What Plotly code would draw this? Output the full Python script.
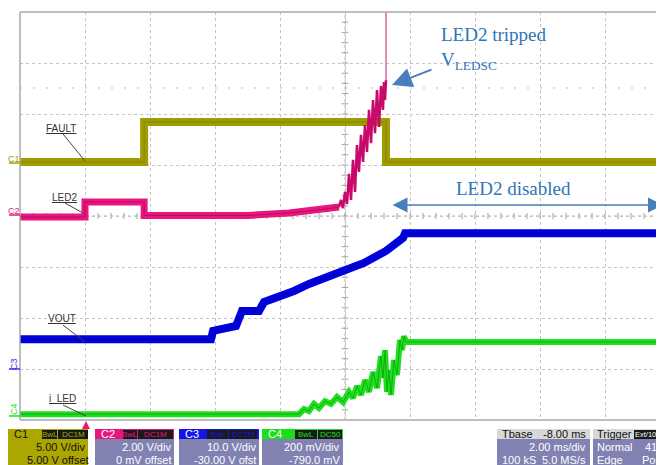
import plotly.graph_objects as go

# ---------------- data (time in ms, trigger at 0; 2 ms/div) ----------------
fault_t = [-2.0, 1.82, 1.82, 9.26, 9.26, 18.0]
fault_v = [0.29, 0.29, 4.22, 4.22, 0.29, 0.29]

led2_t = [-2.0, 0.0, 0.0, 1.82, 1.82, 5.0, 6.28, 7.2, 7.815]
led2_v = [-0.04, -0.04, 0.55, 0.55, 0.02, 0.02, 0.12, 0.24, 0.35]

led2_ramp_t = [7.815, 7.877, 7.938, 8.0, 8.062, 8.123, 8.185, 8.246, 8.308, 8.369,
               8.431, 8.492, 8.554, 8.615, 8.677, 8.738, 8.8, 8.862, 8.923, 8.985,
               9.046, 9.108, 9.169, 9.2, 9.231, 9.262]
led2_ramp_v = [0.35, 0.63, 0.31, 0.94, 0.47, 1.65, 0.63, 2.20, 0.94, 2.78,
               1.73, 3.18, 2.12, 3.57, 2.51, 4.16, 2.86, 4.55, 3.25, 4.94,
               3.49, 5.10, 4.16, 5.25, 4.55, 5.33]
led2_spike_t = [9.262, 9.262]
led2_spike_v = [5.33, 12.0]

vout_t = [-2.0, 3.877, 3.94, 4.646, 4.83, 5.354, 5.508, 5.908, 6.277, 6.431,
          6.892, 7.354, 7.908, 8.585, 9.262, 9.785, 9.846, 18.0]
vout_v = [5.85, 5.85, 7.46, 8.44, 11.38, 11.38, 13.14, 13.93, 14.91, 15.3,
          16.67, 17.85, 19.02, 20.79, 23.14, 25.69, 26.6, 26.6]

iled_t = [-2.0, 6.585, 6.738, 6.892, 7.046, 7.2, 7.385, 7.569, 7.754, 7.938,
          8.123, 8.246, 8.369, 8.492, 8.615, 8.738, 8.862, 8.985, 9.108, 9.169,
          9.231, 9.292, 9.354, 9.415, 9.508, 9.6, 9.692, 9.754, 9.815, 9.877, 18.0]
iled_v = [0.013, 0.013, 0.033, 0.025, 0.053, 0.037, 0.064, 0.053, 0.080, 0.060,
          0.100, 0.076, 0.123, 0.088, 0.147, 0.100, 0.178, 0.115, 0.241, 0.155,
          0.264, 0.100, 0.186, 0.088, 0.225, 0.166, 0.304, 0.264, 0.319, 0.296, 0.296]

# channel scale settings (V/div, offset V)
ch_names = ["C1", "C2", "C3", "C4"]
ch_vdiv = [5.0, 2.0, 10.0, 0.2]
ch_offset = [5.0, 0.0, -30.0, -0.79]
trace_labels = ["FAULT", "LED2", "VOUT", "i_LED"]

# timebase
ms_per_div = 2.0
t_left = -2.0

# ---------------- geometry ----------------
# the page body has an 8px margin; compensate so the plot lands where the reference has it
BODY = 8
W, H = 664, 465
ML, MT = 20, 12           # plot-area corner in page pixels
PW = W - ML               # 644
PH = 408
MB = H - MT - PH
DIVW = 65.0
t_right = t_left + PW / DIVW * ms_per_div


def xp(px):
    return (px - ML) / PW


def yp(py):
    return (MT + PH - py) / PH


OLIVE = "#a09d00"
PINK = "#e8177f"
BLUE = "#0000e0"
GREEN = "#1fe01f"
ANN = "#2e75b6"
LAV = "#8282b2"

fig = go.Figure()

# traces
fig.add_trace(go.Scatter(x=fault_t, y=fault_v, yaxis="y2", mode="lines",
                         line=dict(color=OLIVE, width=8), hoverinfo="skip"))
fig.add_trace(go.Scatter(x=fault_t, y=fault_v, yaxis="y2", mode="lines",
                         line=dict(color="#858300", width=1), hoverinfo="skip"))
fig.add_trace(go.Scatter(x=led2_t, y=led2_v, yaxis="y3", mode="lines",
                         line=dict(color=PINK, width=7), hoverinfo="skip"))
fig.add_trace(go.Scatter(x=led2_t, y=led2_v, yaxis="y3", mode="lines",
                         line=dict(color="#c0065f", width=1), hoverinfo="skip"))
fig.add_trace(go.Scatter(x=led2_ramp_t, y=led2_ramp_v, yaxis="y3", mode="lines",
                         line=dict(color="#c8086a", width=2.5), hoverinfo="skip"))
fig.add_trace(go.Scatter(x=led2_spike_t, y=led2_spike_v, yaxis="y3", mode="lines",
                         line=dict(color="#d0448a", width=1.2), hoverinfo="skip"))
fig.add_trace(go.Scatter(x=vout_t, y=vout_v, yaxis="y4", mode="lines",
                         line=dict(color=BLUE, width=8), hoverinfo="skip"))
fig.add_trace(go.Scatter(x=vout_t, y=vout_v, yaxis="y4", mode="lines",
                         line=dict(color="#0000a8", width=1), hoverinfo="skip"))
fig.add_trace(go.Scatter(x=iled_t, y=iled_v, yaxis="y5", mode="lines",
                         line=dict(color=GREEN, width=6), hoverinfo="skip"))
fig.add_trace(go.Scatter(x=iled_t, y=iled_v, yaxis="y5", mode="lines",
                         line=dict(color="#12aa12", width=1), hoverinfo="skip"))

shapes = []
annots = []

# frame
frame_col = "#a8a8a8"
shapes.append(dict(type="line", xref="paper", yref="paper", x0=0, x1=1, y0=1, y1=1,
                   line=dict(color=frame_col, width=1.5)))
shapes.append(dict(type="line", xref="paper", yref="paper", x0=0, x1=1, y0=0, y1=0,
                   line=dict(color=frame_col, width=1.5)))
shapes.append(dict(type="line", xref="paper", yref="paper", x0=0, x1=0, y0=0, y1=1,
                   line=dict(color=frame_col, width=1.5)))

# centre cross with minor ticks
t_center = t_left + 5 * ms_per_div
shapes.append(dict(type="line", xref="x", yref="y", x0=t_left, x1=t_left + 10 * ms_per_div,
                   y0=0, y1=0, line=dict(color="#b0b0b0", width=1, dash="dot"), layer="below"))
shapes.append(dict(type="line", xref="x", yref="y", x0=t_center, x1=t_center,
                   y0=-4, y1=4, line=dict(color="#b0b0b0", width=1, dash="dot"), layer="below"))
for i in range(1, 50):
    tx = t_left + i * ms_per_div / 5
    shapes.append(dict(type="line", xref="x", yref="y", x0=tx, x1=tx, y0=-0.06, y1=0.06,
                       line=dict(color="#a0a0a0", width=1), layer="below"))
for j in range(-19, 20):
    dy = j / 5
    shapes.append(dict(type="line", xref="x", yref="y", x0=t_center - 0.1, x1=t_center + 0.1,
                       y0=dy, y1=dy, line=dict(color="#a0a0a0", width=1), layer="below"))
# sparse reference line
shapes.append(dict(type="line", xref="paper", yref="y", x0=0, x1=1, y0=2.51, y1=2.51,
                   line=dict(color="#b8b8b8", width=1, dash="2px,11px"), layer="below"))

# trace labels with leader lines
lab_specs = [("FAULT", 61, 128, (63, 134), (85, 161)),
             ("LED2", 64, 197, (65, 203), (83, 213)),
             ("VOUT", 62, 318, (63, 325), (85, 342)),
             ("i_LED", 62, 398, (63, 405), (86, 416))]
for txt_, cx, cy, p0, p1 in lab_specs:
    annots.append(dict(xref="paper", yref="paper", x=xp(cx), y=yp(cy), text="<u>" + txt_ + "</u>",
                       showarrow=False, font=dict(family="Liberation Sans", size=10, color="#333333"),
                       xanchor="center", yanchor="middle"))
    shapes.append(dict(type="line", xref="paper", yref="paper", x0=xp(p0[0]), y0=yp(p0[1]),
                       x1=xp(p1[0]), y1=yp(p1[1]), line=dict(color="#444444", width=1)))

# channel markers on the left
mk = [("C1", OLIVE, 14, 159, 0, 163), ("C2", PINK, 14, 211, 0, 215),
      ("C3", "#3030ff", 14, 364, -90, 369), ("C4", GREEN, 14, 409, -90, 416)]
for txt_, col, cx, cy, ang, zy in mk:
    annots.append(dict(xref="paper", yref="paper", x=xp(cx), y=yp(cy), text=txt_, textangle=ang,
                       showarrow=False, font=dict(family="Liberation Sans", size=9, color=col),
                       xanchor="center", yanchor="middle"))
    shapes.append(dict(type="line", xref="paper", yref="paper", x0=xp(9), x1=xp(20),
                       y0=yp(zy), y1=yp(zy), line=dict(color=col, width=1.5)))

# trigger marker
shapes.append(dict(type="path", xref="paper", yref="paper",
                   path="M {} {} L {} {} L {} {} Z".format(xp(82), yp(429), xp(86), yp(421), xp(90), yp(429)),
                   fillcolor=PINK, line=dict(width=0)))

# annotations in blue
serif = "Liberation Serif"
annots.append(dict(xref="paper", yref="paper", x=xp(439), y=yp(34), text="LED2 tripped",
                   showarrow=False, xanchor="left", yanchor="middle",
                   font=dict(family=serif, size=19, color=ANN)))
annots.append(dict(xref="paper", yref="paper", x=xp(439), y=yp(61), text="V<sub>LEDSC</sub>",
                   showarrow=False, xanchor="left", yanchor="middle",
                   font=dict(family=serif, size=19, color=ANN)))
annots.append(dict(xref="paper", yref="paper", x=xp(454), y=yp(188), text="LED2 disabled",
                   showarrow=False, xanchor="left", yanchor="middle",
                   font=dict(family=serif, size=19, color=ANN)))


def px_t(px):
    return t_left + (px - ML) / DIVW * ms_per_div


def py_d(py):
    return 4 - (py - MT) / 51.0


annots.append(dict(xref="x", yref="y", axref="x", ayref="y", x=px_t(392), y=py_d(85),
                   ax=px_t(433), ay=py_d(69), text="", showarrow=True, arrowhead=2,
                   arrowsize=2, arrowwidth=2, arrowcolor="#4a7ebb"))
annots.append(dict(xref="x", yref="y", axref="x", ayref="y", x=px_t(663), y=py_d(205),
                   ax=px_t(391), ay=py_d(205), text="", showarrow=True, arrowhead=2,
                   startarrowhead=2, arrowside="end+start", arrowsize=2, startarrowsize=2,
                   arrowwidth=1.5, arrowcolor="#4a7ebb"))

# ---------------- bottom info panel ----------------
BT, HB, BB = 429, 439, 470
sans = "Liberation Sans"
FS = 11


def rect(x0, x1, y0, y1, col):
    shapes.append(dict(type="rect", xref="paper", yref="paper", x0=xp(x0), x1=xp(x1),
                       y0=yp(y1), y1=yp(y0), fillcolor=col, line=dict(width=0)))


def txt(x, y, s, col, size=FS, anchor="left"):
    annots.append(dict(xref="paper", yref="paper", x=xp(x), y=yp(y), text=s, showarrow=False,
                       xanchor=anchor, yanchor="middle",
                       font=dict(family=sans, size=size, color=col)))


ch_colors = ["#aca700", PINK, "#1414e6", "#18e018"]
boxes = [(8, 88), (95, 174), (179, 259), (262, 343)]
tags = [[("BwL", 42, 57), ("DC1M", 58, 88)],
        [("BwL", 123, 137), ("DC1M", 138, 173)],
        [("BwL", 207, 228), ("DC1M", 229, 257)],
        [("BwL", 295, 317), ("DC50", 318, 342)]]
line2 = ["5.00 V/div", "2.00 V/div", "10.0 V/div", "200 mV/div"]
line3 = ["5.00 V offset", "0 mV offset", "-30.00 V ofst", "-790.0 mV"]
for k in range(4):
    x0, x1 = boxes[k]
    body = ch_colors[k] if k == 0 else LAV
    tc = "#111111" if k == 0 else "white"
    rect(x0, x1, BT, BB, body)
    rect(x0, x1, BT, HB, ch_colors[k])
    txt(x0 + 4, 434, ch_names[k], "#111111" if k == 0 else "white", FS)
    for tg, a, b in tags[k]:
        rect(a, b, 430, 439, "#1a1a1a")
        txt((a + b) / 2, 434.5, tg, ch_colors[k], 8, "center")
    txt(x1 - 1, 446.5, line2[k], tc, FS, "right")
    txt(x1 + (3 if k == 0 else -1), 459.5, line3[k], tc, FS, "right")

# timebase box
rect(497, 590, BT, BB, LAV)
rect(497, 590, BT, HB, "#d8d8d8")
txt(500, 434, "Tbase", "#111111")
txt(588, 434, "-8.00 ms", "#111111", FS, "right")
txt(588, 446.5, "2.00 ms/div", "white", FS, "right")
txt(500, 459.5, "100 kS", "white")
txt(588, 459.5, "5.0 MS/s", "white", FS, "right")
# trigger box
rect(593, 670, BT, BB, LAV)
rect(593, 670, BT, HB, "#d8d8d8")
txt(595, 434, "Trigger", "#111111")
rect(634, 657, 430, 439, "#1a1a1a")
txt(645.5, 434.5, "Ext/10", "white", 7.5, "center")
rect(658, 670, 430, 439, "#1a1a1a")
txt(659, 434.5, "DC", "white", 7.5)
txt(595, 446.5, "Normal", "white")
txt(643, 446.5, "410 mV", "white")
txt(595, 459.5, "Edge", "white")
txt(640, 459.5, "Positive", "white")

# ---------------- axes ----------------
grid = dict(showgrid=True, gridcolor="#c4c4c4", griddash="dot", gridwidth=1,
            zeroline=False, showticklabels=False, ticks="", showline=False)
layout_axes = dict(
    xaxis=dict(range=[t_left, t_right], tick0=t_left, dtick=ms_per_div, **grid),
    yaxis=dict(range=[-4, 4], tick0=-4, dtick=1, **grid),
)
for k in range(4):
    lo = -4 * ch_vdiv[k] - ch_offset[k]
    hi = 4 * ch_vdiv[k] - ch_offset[k]
    layout_axes["yaxis%d" % (k + 2)] = dict(range=[lo, hi], overlaying="y", visible=False)

fig.update_layout(
    width=W - BODY, height=H - BODY, autosize=False,
    margin=dict(l=ML - BODY, r=0, t=MT - BODY, b=MB, pad=0),
    paper_bgcolor="white", plot_bgcolor="white",
    showlegend=False,
    shapes=shapes, annotations=annots,
    **layout_axes,
)

fig.write_html("out.html")
